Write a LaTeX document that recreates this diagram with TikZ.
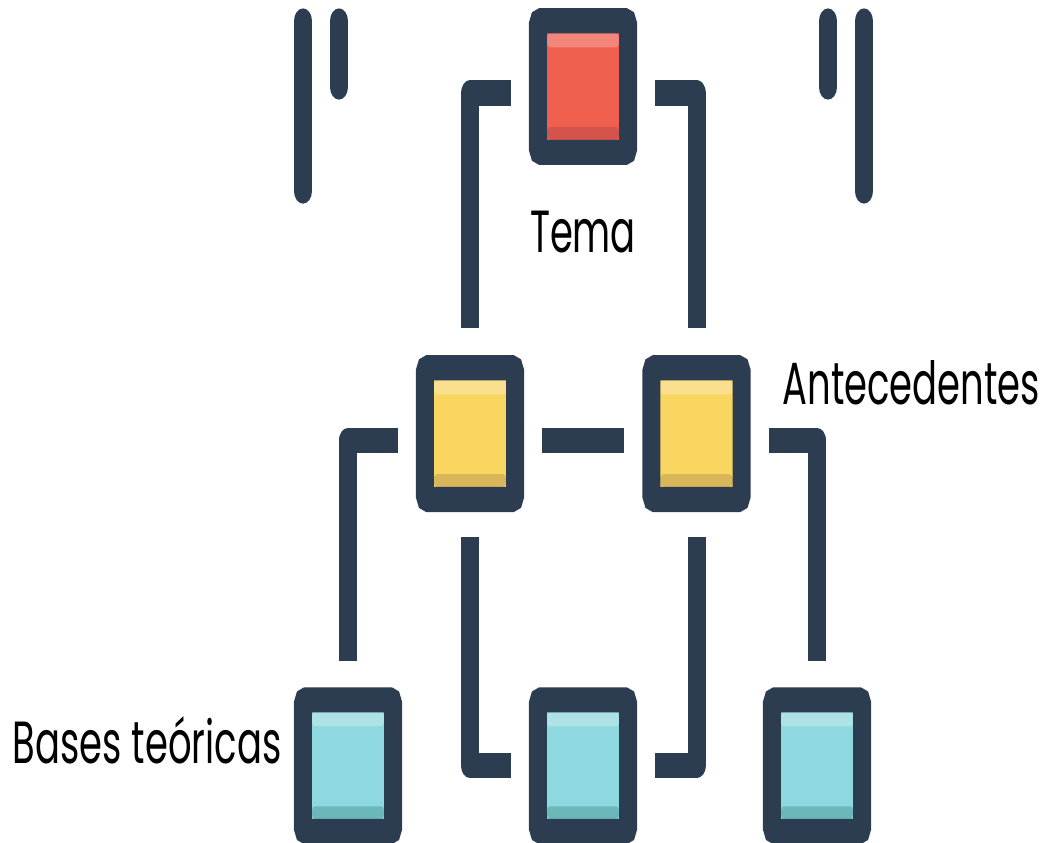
\documentclass[tikz,border=0pt]{standalone}
\usepackage{fontspec}
\setmainfont{Poppins}
\usetikzlibrary{calc}
\definecolor{marino}{HTML}{2C3D52}
\definecolor{rojo}{HTML}{F0604F}
\definecolor{rojoclaro}{HTML}{F3857B}
\definecolor{rojooscuro}{HTML}{D4534A}
\definecolor{amarillo}{HTML}{F9D660}
\definecolor{amarilloclaro}{HTML}{FAE08E}
\definecolor{amarillooscuro}{HTML}{D9B659}
\definecolor{celeste}{HTML}{8ED9DF}
\definecolor{celesteclaro}{HTML}{ADE3E7}
\definecolor{celesteoscuro}{HTML}{6BB8BB}
\tikzset{
  caja/.style={draw=marino, line width=0.18cm, fill=#1, rounded corners=0.03cm,
    minimum width=0.9cm, minimum height=0.94cm, inner sep=0pt, outer sep=0.09cm,
    path picture={
      \fill[#1claro] ([xshift=0.09cm,yshift=-0.09cm]path picture bounding box.north west)
        rectangle ([xshift=-0.09cm,yshift=-0.19cm]path picture bounding box.north east);
      \fill[#1oscuro] ([xshift=0.09cm,yshift=0.09cm]path picture bounding box.south west)
        rectangle ([xshift=-0.09cm,yshift=0.18cm]path picture bounding box.south east);
    }},
  enlace/.style={draw=marino, line width=0.18cm, line join=round},
  etiqueta/.style={inner sep=0pt, yscale=1.15, transform shape, font=\fontsize{10.5}{12}\selectfont}
}

\begin{document}
\begin{tikzpicture}[x=0.01cm, y=-0.01cm]
\useasboundingbox (0,0) rectangle (1046,843);
\begin{scope}[y=-0.007143cm, transform canvas={yscale=1.4}]
\node[caja=rojo] (tema) at (583,86.5) {};
\node[caja=amarillo] (ante1) at (470,433.5) {};
\node[caja=amarillo] (ante2) at (696.5,433.5) {};
\node[caja=celeste] (base1) at (348,765.5) {};
\node[caja=celeste] (base2) at (583,765.5) {};
\node[caja=celeste] (base3) at (817,765.5) {};

\node[etiqueta, anchor=base] (ltema) at (583,252) {Tema};
\node[etiqueta, anchor=base west] (lante) at (782,404) {Antecedentes};
\node[etiqueta, anchor=base east] (lbase) at (282,763) {Bases teóricas};

\draw[enlace] ($(tema.west)+(-18,6.5)$) -| ($(ante1.north)+(0,-27)$);
\draw[enlace] ($(tema.east)+(18,6.5)$) -| ($(ante2.north)+(0,-27)$);
\draw[enlace] ($(ante1.east)+(18,6.5)$) -- ($(ante2.west)+(-18,6.5)$);
\draw[enlace] ($(ante1.west)+(-18,6.5)$) -| ($(base1.north)+(0,-26)$);
\draw[enlace] ($(ante2.east)+(18,6.5)$) -| ($(base3.north)+(0,-26)$);
\draw[enlace] ($(ante1.south)+(0,25)$) |- ($(base2.west)+(-18,0)$);
\draw[enlace] ($(ante2.south)+(0,25)$) |- ($(base2.east)+(18,0)$);

\foreach \x/\fin in {303/191, 339/87, 828/87, 864/191}
  \draw[marino, line width=0.18cm, line cap=round] (\x,21) -- (\x,\fin);
\end{scope}
\end{tikzpicture}
\end{document}
